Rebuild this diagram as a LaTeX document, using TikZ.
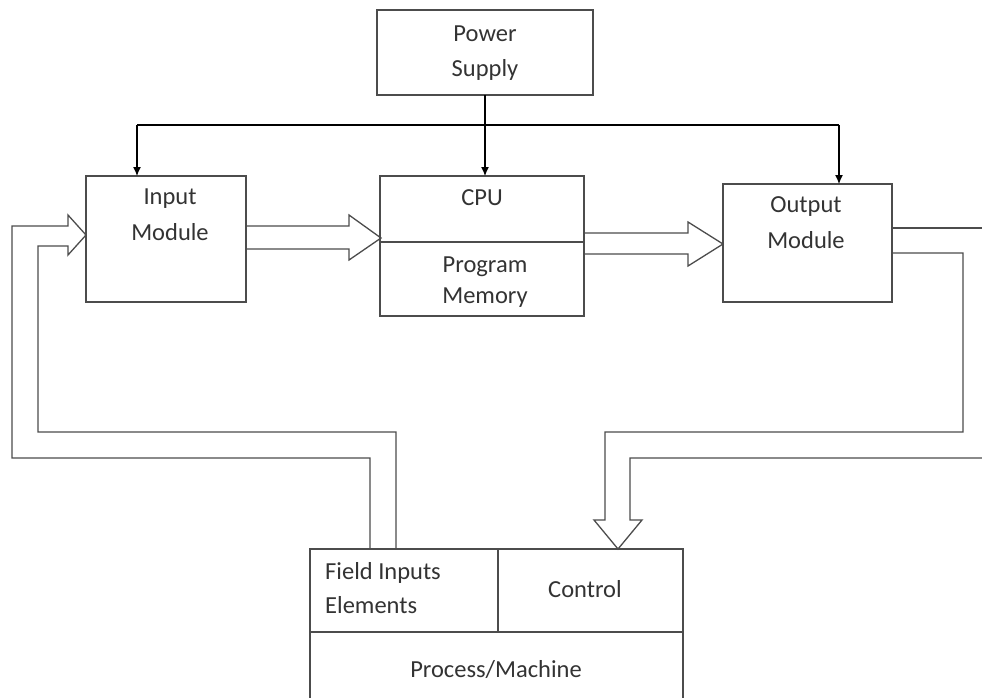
\documentclass[tikz,border=0pt]{standalone}
\usepackage{fontspec}
\setmainfont{Carlito}
\usetikzlibrary{arrows.meta}
\begin{document}
\begin{tikzpicture}[x=1pt,y=-1pt,
  ln/.style={draw=black!70, line width=1.3pt},
  box/.style={ln, rectangle, inner sep=0pt, outer sep=0pt},
  lbl/.style={inner sep=0pt, font=\fontsize{24.5}{28}\selectfont, text=black!80},
  pw/.style={draw=black, line width=1.2pt, -{Latex[length=9pt,width=8pt]}}]
\clip (0,0) rectangle (982,697);
% boxes
\node[box, minimum width=216pt, minimum height=85pt] (ps) at (485,52.5) {};
\node[box, minimum width=160pt, minimum height=126pt] (in) at (166,239) {};
\node[box, minimum width=204pt, minimum height=140pt] (cpu) at (482,246) {};
\node[box, minimum width=169pt, minimum height=118pt] (out) at (807.5,243) {};
\draw[ln] (cpu.west |- 0,242) -- (cpu.east |- 0,242);
% bottom block
\node[box, minimum width=188pt, minimum height=83pt] (fie) at (404,590.5) {};
\node[box, minimum width=185pt, minimum height=83pt] (ctl) at (590.5,590.5) {};
\draw[ln] (fie.south west) -- (310,710) (ctl.south east) -- (683,710);
% labels
\node[lbl] (t1) at (485,34) {Power};
\node[lbl] (t2) at (485,70) {Supply};
\node[lbl] (t3) at (170,199) {Input};
\node[lbl] (t4) at (170,232) {Module};
\node[lbl] (t5) at (482,198) {CPU};
\node[lbl] (t6) at (485,267) {Program};
\node[lbl] (t7) at (485,298) {Memory};
\node[lbl] (t8) at (806,207) {Output};
\node[lbl] (t9) at (806,240) {Module};
\node[lbl, anchor=west] (t10) at (325,573) {Field Inputs};
\node[lbl, anchor=west] (t11) at (325,605) {Elements};
\node[lbl] (t12) at (585,589) {Control};
\node[lbl] (t13) at (496,670) {Process/Machine};
% power distribution
\draw[pw] (ps.south) -- (ps.south |- cpu.north);
\draw[ln, draw=black] (137,125) -- (839,125);
\draw[pw] (137,125) -- (in.north -| 137,0);
\draw[pw] (839,125) -- (out.north -| 839,0);
% hollow arrows
\draw[ln] (246,226) -- (349,226) -- (349,215) -- (381,238) -- (349,260) -- (349,249) -- (246,249);
\draw[ln] (584,233) -- (688,233) -- (688,222) -- (723,244) -- (688,266) -- (688,254) -- (584,254);
% output -> control loop
\draw[ln] (893,253) -- (963,253) -- (963,432) -- (605,432) -- (605,520) -- (594,520) -- (618,549) -- (642,520) -- (630,520) -- (630,458) -- (995,458);
\draw[ln] (893,228) -- (995,228);
% field inputs -> input loop
\draw[ln] (396,549) -- (396,432) -- (38,432) -- (38,246) -- (68,246) -- (68,255) -- (86,235) -- (68,215) -- (68,226) -- (12,226) -- (12,458) -- (370,458) -- (370,549);
\end{tikzpicture}
\end{document}
